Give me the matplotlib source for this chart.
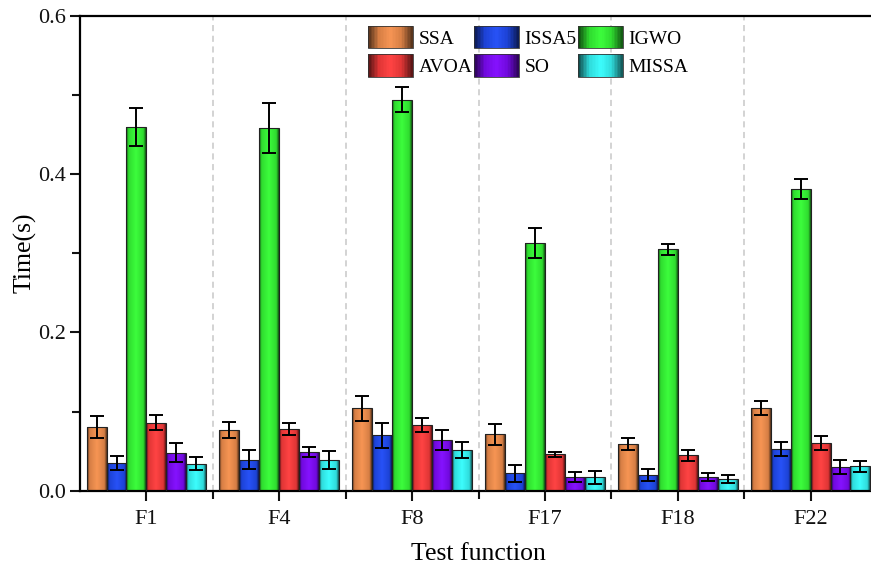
import numpy as np
import matplotlib.pyplot as plt
from matplotlib.colors import LinearSegmentedColormap, to_rgb
from matplotlib.legend_handler import HandlerBase
from matplotlib.patches import Rectangle

plt.rcParams['font.family'] = ['Liberation Serif', 'DejaVu Serif']

# data (mean run time and error)
functions = ["F1", "F4", "F8", "F17", "F18", "F22"]
algorithms = ["SSA", "ISSA5", "IGWO", "AVOA", "SO", "MISSA"]

ssa = [0.080, 0.077, 0.104, 0.071, 0.059, 0.104]
ssa_err = [0.014, 0.010, 0.016, 0.013, 0.008, 0.009]
issa5 = [0.035, 0.039, 0.070, 0.022, 0.020, 0.053]
issa5_err = [0.009, 0.012, 0.016, 0.011, 0.008, 0.009]
igwo = [0.460, 0.458, 0.494, 0.313, 0.305, 0.381]
igwo_err = [0.024, 0.032, 0.016, 0.019, 0.007, 0.013]
avoa = [0.086, 0.078, 0.083, 0.046, 0.045, 0.060]
avoa_err = [0.009, 0.008, 0.009, 0.003, 0.007, 0.009]
so = [0.048, 0.049, 0.064, 0.017, 0.017, 0.030]
so_err = [0.012, 0.006, 0.013, 0.006, 0.005, 0.009]
missa = [0.034, 0.039, 0.051, 0.017, 0.015, 0.031]
missa_err = [0.008, 0.011, 0.010, 0.008, 0.005, 0.007]

values = [ssa, issa5, igwo, avoa, so, missa]
errors = [ssa_err, issa5_err, igwo_err, avoa_err, so_err, missa_err]
colors = ["#E8894A", "#1F48E8", "#33EE33", "#F23A3A", "#7A0AF0", "#33EEEE"]


def gradient_cmap(color, flat=0.15):
    c = np.array(to_rgb(color))
    stops = [c * 0.3, c * 0.92, np.minimum(c * 1.03 + 0.03, 1), c * 0.92, c * 0.35]
    return LinearSegmentedColormap.from_list("", list(zip([0, flat, 0.5, 1 - flat, 1], stops)))


# legend handle drawn as a stack of thin coloured strips
class GradientHandler(HandlerBase):
    def __init__(self, cmap):
        super().__init__()
        self.cmap = cmap

    def create_artists(self, legend, orig_handle, xdescent, ydescent,
                       width, height, fontsize, trans):
        n = 30
        y0 = -ydescent - 0.1 * height
        h = height * 1.2
        arts = []
        for i in range(n):
            r = Rectangle((-xdescent + width * i / n, y0), width / n + 0.3, h,
                          facecolor=self.cmap((i + 0.5) / n), edgecolor='none', transform=trans)
            arts.append(r)
        arts.append(Rectangle((-xdescent, y0), width, h, facecolor='none',
                              edgecolor='#333333', linewidth=0.6, transform=trans))
        return arts


fig = plt.figure(figsize=(8.71, 5.67), dpi=100)
ax = fig.add_axes([80 / 871, 76.3 / 567, 797 / 871, 475 / 567])

x = np.arange(len(functions))
width = 0.15
grad = np.linspace(0, 1, 64).reshape(1, -1)

handles = []
handler_map = {}
for i, (name, vals, errs, col) in enumerate(zip(algorithms, values, errors, colors)):
    pos = x + (i - 2.5) * width
    bars = ax.bar(pos, vals, width, facecolor='none', edgecolor='#222222', linewidth=0.8, zorder=3)
    bar_cmap = gradient_cmap(col, 0.12)
    for patch in bars:
        x0 = patch.get_x()
        im = ax.imshow(grad, extent=[x0, x0 + patch.get_width(), 0, patch.get_height()],
                       aspect='auto', cmap=bar_cmap, zorder=2, interpolation='bilinear')
        im.set_clip_path(patch)
    ax.errorbar(pos, vals, yerr=errs, fmt='none', ecolor='black', elinewidth=1.4,
                capsize=5, capthick=1.4, zorder=4)
    proxy = Rectangle((0, 0), 1, 1)
    handles.append(proxy)
    handler_map[proxy] = GradientHandler(gradient_cmap(col, 0.25))

# separators between the groups
for b in x[:-1] + 0.5:
    ax.axvline(b, color='#C8C8C8', linestyle=(0, (4, 3)), linewidth=1.1, zorder=1)

ax.set_xlim(-0.5, 5.5)
ax.set_ylim(0, 0.6)
ax.set_xticks(x)
ax.set_xticklabels(functions)
ax.set_xticks(x[:-1] + 0.5, minor=True)
ax.set_yticks([0, 0.2, 0.4, 0.6])
ax.set_yticklabels(["0.0", "0.2", "0.4", "0.6"])
ax.set_yticks([0.1, 0.3, 0.5], minor=True)
ax.tick_params(which='both', direction='out', width=1.5, labelsize=16, colors='#111111')
ax.tick_params(which='major', length=7)
ax.tick_params(which='minor', length=6)
ax.tick_params(axis='x', pad=7)
ax.tick_params(axis='y', pad=3)
for s in ['left', 'bottom', 'top']:
    ax.spines[s].set_linewidth(1.6)
ax.spines['right'].set_visible(False)

ax.set_xlabel("Test function", fontsize=18.5, labelpad=10)
ax.set_ylabel("Time(s)", fontsize=18.5, labelpad=1)

# column-wise fill gives rows SSA/ISSA5/IGWO and AVOA/SO/MISSA
order = [0, 3, 1, 4, 2, 5]
ax.legend([handles[k] for k in order], [algorithms[k] for k in order], handler_map=handler_map,
          ncol=3, frameon=False, fontsize=14, loc='upper left',
          bbox_to_anchor=((366 - 80) / 797, (490.7 - 26) / 475),
          borderaxespad=0, borderpad=0.1, handlelength=2.3, handleheight=1.1,
          handletextpad=0.3, columnspacing=0.08, labelspacing=0.42)

fig.savefig("out.png", dpi=100)
